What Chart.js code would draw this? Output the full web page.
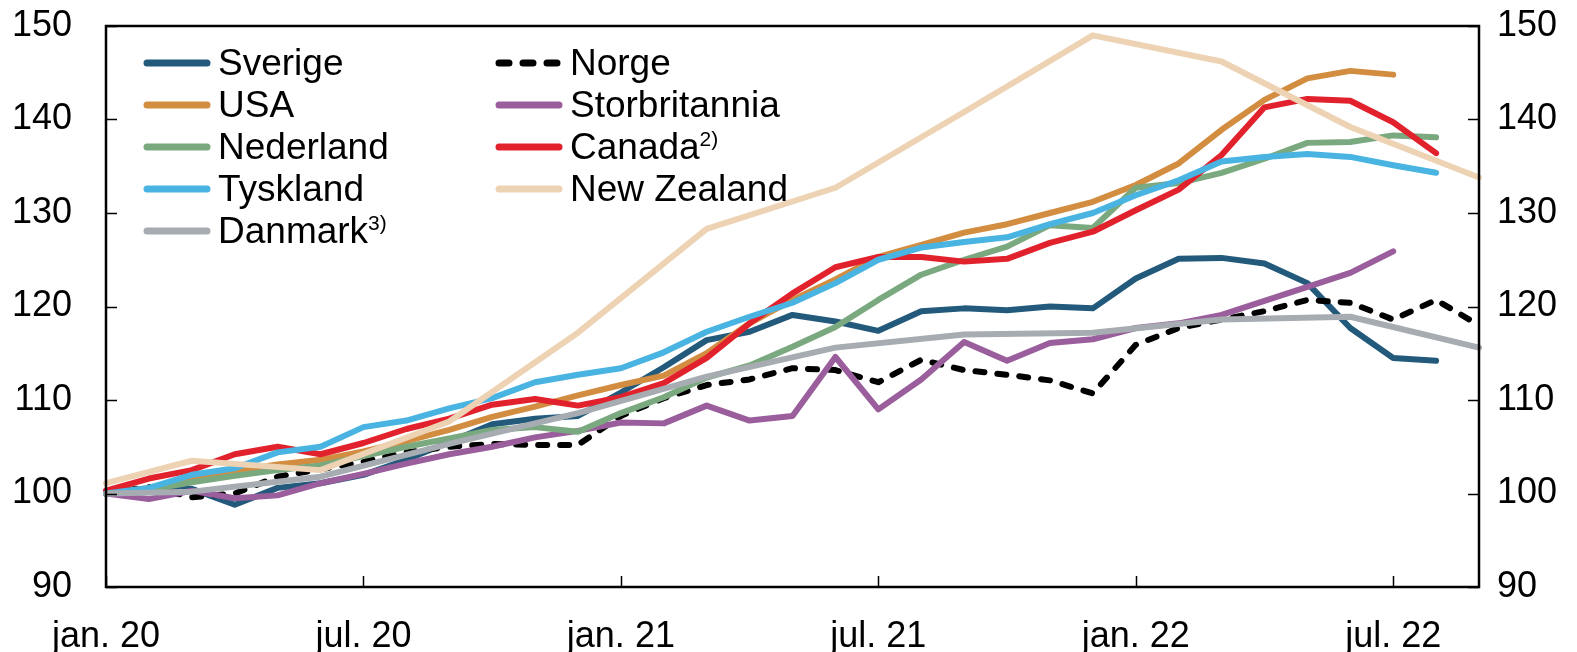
<!DOCTYPE html>
<html>
<head>
<meta charset="utf-8">
<script src="https://cdn.jsdelivr.net/npm/chart.js@4.4.1/dist/chart.umd.min.js"></script>
<style>
  html, body { margin: 0; padding: 0; background: #fff; }
  #wrap { position: relative; width: 1577px; height: 652px; }
  #legend { position: absolute; left: 0; top: 0; font-family: "Liberation Sans", Arial, sans-serif; font-size: 37px; color: #000; }
  .item { position: absolute; height: 42px; display: flex; align-items: center; white-space: nowrap; }
  .item svg { margin-right: 7px; }
  .item sup { font-size: 21px; vertical-align: 13px; line-height: 0; }
</style>
</head>
<body>
<div id="wrap">
  <canvas id="boligpriser"></canvas>
  <div id="legend"></div>
</div>
<script>
// Boligpriser, indeks jan. 2020 = 100 (månedlige, NZ og Danmark kvartalsvise)

const labels = [
  'jan. 20', 'feb. 20', 'mar. 20', 'apr. 20', 'mai 20', 'jun. 20', 'jul. 20', 'aug. 20', 'sep. 20', 'okt. 20', 'nov. 20', 'des. 20',
  'jan. 21', 'feb. 21', 'mar. 21', 'apr. 21', 'mai 21', 'jun. 21', 'jul. 21', 'aug. 21', 'sep. 21', 'okt. 21', 'nov. 21', 'des. 21',
  'jan. 22', 'feb. 22', 'mar. 22', 'apr. 22', 'mai 22', 'jun. 22', 'jul. 22', 'aug. 22', 'sep. 22'
];
const visteEtiketter = ['jan. 20', 'jul. 20', 'jan. 21', 'jul. 21', 'jan. 22', 'jul. 22'];
const yTicks = [90, 100, 110, 120, 130, 140, 150];

const sverige = [100, 100.3, 100.5, 98.8, 100.6, 101.1, 102.0, 103.6, 105.5, 107.4, 108.0, 108.3,
  110.8, 113.5, 116.4, 117.3, 119.1, 118.4, 117.4, 119.5, 119.8, 119.6, 120.0, 119.8,
  123.0, 125.1, 125.2, 124.6, 122.5, 117.7, 114.5, 114.2, null];
const norge = [100, 100.7, 99.6, 100.0, 101.8, 102.6, 103.4, 104.4, 105.0, 105.3, 105.2, 105.2,
  108.3, 110.2, 111.6, 112.2, 113.4, 113.2, 111.9, 114.3, 113.2, 112.7, 112.1, 110.7,
  115.9, 117.7, 118.6, 119.5, 120.7, 120.4, 118.6, 120.7, 118.0];
const usa = [100, 100.6, 101.4, 102.4, 103.1, 103.6, 104.5, 105.6, 106.8, 108.2, 109.3, 110.5,
  111.6, 112.6, 115.0, 118.2, 120.7, 122.9, 125.3, 126.6, 127.9, 128.8, 130.0, 131.2,
  133.0, 135.3, 138.9, 142.1, 144.4, 145.2, 144.8, null, null];
const storbritannia = [100, 99.4, 100.3, 99.5, 99.8, 101.1, 102.1, 103.2, 104.2, 105.0, 106.0, 106.7,
  107.6, 107.5, 109.4, 107.8, 108.3, 114.6, 109.0, 112.2, 116.2, 114.2, 116.1, 116.5,
  117.7, 118.2, 119.1, 120.6, 122.1, 123.6, 125.9, null, null];
const nederland = [100, 100.4, 101.2, 101.9, 102.5, 103.0, 104.0, 105.0, 105.9, 106.8, 107.1, 106.6,
  108.6, 110.3, 112.4, 113.7, 115.7, 117.8, 120.7, 123.4, 125.0, 126.4, 128.7, 128.4,
  132.7, 133.2, 134.3, 135.8, 137.5, 137.6, 138.3, 138.1, null];
const canada = [100.3, 101.6, 102.5, 104.2, 105.0, 104.2, 105.4, 106.9, 108.0, 109.5, 110.1, 109.4,
  110.3, 111.8, 114.5, 118.2, 121.4, 124.2, 125.3, 125.3, 124.8, 125.1, 126.8, 128.0,
  130.3, 132.5, 136.2, 141.3, 142.2, 142.0, 139.7, 136.4, null];
const tyskland = [100, 100.6, 102.0, 102.7, 104.4, 105.0, 107.1, 107.8, 109.1, 110.2, 111.9, 112.7,
  113.4, 115.1, 117.3, 118.9, 120.4, 122.5, 125.0, 126.3, 126.9, 127.4, 128.8, 130.0,
  131.9, 133.5, 135.5, 136.0, 136.3, 136.0, 135.1, 134.3, null];
const newZealand = [101.1, null, 103.5, null, null, 102.5, null, null, 107.7, null, null, 117.2,
  null, null, 128.3, null, null, 132.7, null, null, 140.8, null, null, 149.0,
  null, null, 146.2, null, null, 139.2, null, null, 133.8];
const danmark = [100, null, 100.2, null, null, 101.8, null, null, 105.3, null, null, 108.6,
  null, null, 112.5, null, null, 115.6, null, null, 117.0, null, null, 117.2,
  null, null, 118.6, null, null, 118.9, null, null, 115.6];

const serier = [
  { navn: 'Sverige', fotnote: '', data: sverige, farge: '#235A7C', stiplet: false },
  { navn: 'USA', fotnote: '', data: usa, farge: '#D28D41', stiplet: false },
  { navn: 'Nederland', fotnote: '', data: nederland, farge: '#7AA97F', stiplet: false },
  { navn: 'Tyskland', fotnote: '', data: tyskland, farge: '#49B4E1', stiplet: false },
  { navn: 'Danmark', fotnote: '3)', data: danmark, farge: '#A6ACB1', stiplet: false },
  { navn: 'Norge', fotnote: '', data: norge, farge: '#000000', stiplet: true },
  { navn: 'Storbritannia', fotnote: '', data: storbritannia, farge: '#9A5E9C', stiplet: false },
  { navn: 'Canada', fotnote: '2)', data: canada, farge: '#E1222D', stiplet: false },
  { navn: 'New Zealand', fotnote: '', data: newZealand, farge: '#EDD3B3', stiplet: false }
];
// tegnerekkefølge: siste i listen ligger øverst
const tegneRekkefolge = ['Sverige', 'Norge', 'USA', 'Storbritannia', 'Nederland', 'Canada', 'Tyskland', 'New Zealand', 'Danmark'];

const fontFamily = '"Liberation Sans", Arial, sans-serif';

// innvendige tickmerker + ramme rundt plottet
const rammePlugin = {
  id: 'ramme',
  afterDraw(chart) {
    const { ctx, chartArea: a, scales } = chart;
    ctx.save();
    ctx.strokeStyle = '#000';
    ctx.lineWidth = 1.5;
    ctx.beginPath();
    yTicks.forEach(v => {
      const y = Math.round(scales.y.getPixelForValue(v)) + 0.5;
      ctx.moveTo(a.left, y); ctx.lineTo(a.left + 11, y);
      ctx.moveTo(a.right, y); ctx.lineTo(a.right - 11, y);
    });
    labels.forEach((l, i) => {
      if (!visteEtiketter.includes(l)) return;
      const x = Math.round(scales.x.getPixelForValue(i)) + 0.5;
      ctx.moveTo(x, a.bottom); ctx.lineTo(x, a.bottom - 11);
    });
    ctx.stroke();
    ctx.lineWidth = 2.5;
    ctx.strokeRect(a.left, a.top, a.right - a.left, a.bottom - a.top);
    ctx.restore();
  }
};

const canvas = document.getElementById('boligpriser');
const ctx = canvas.getContext('2d');

const datasets = serier.map(s => ({
  label: s.navn,
  data: s.data,
  borderColor: s.farge,
  backgroundColor: s.farge,
  borderWidth: 6,
  borderDash: s.stiplet ? [9, 13] : [],
  borderCapStyle: 'round',
  borderJoinStyle: 'round',
  pointRadius: 0,
  tension: 0,
  spanGaps: true,
  fill: false,
  order: tegneRekkefolge.length - tegneRekkefolge.indexOf(s.navn)
}));

const tickFont = { family: fontFamily, size: 36 };

// y-aksene skal ikke skyve plottet ned pga. etikettene
const fastBredde = w => s => { s.width = w; s.paddingTop = 0; s.paddingBottom = 0; };

new Chart(ctx, {
  type: 'line',
  data: { labels: labels, datasets: datasets },
  options: {
    responsive: true,
    maintainAspectRatio: false,
    animation: false,
    layout: { padding: { top: 26, left: 0, right: 0, bottom: 0 } },
    plugins: {
      legend: { display: false },
      tooltip: { enabled: false }
    },
    scales: {
      x: {
        type: 'category',
        offset: false,
        grid: { display: false, drawTicks: false },
        border: { display: false },
        ticks: {
          autoSkip: false,
          maxRotation: 0,
          padding: 28,
          color: '#000',
          font: tickFont,
          callback: function (value) {
            const l = this.getLabelForValue(value);
            return visteEtiketter.includes(l) ? l : null;
          }
        },
        afterFit: s => { s.height = 65; }
      },
      y: {
        position: 'left',
        min: 90, max: 150,
        grid: { display: false, drawTicks: false },
        border: { display: false },
        ticks: { stepSize: 10, padding: 34, color: '#000', font: tickFont },
        afterFit: fastBredde(106)
      },
      y2: {
        position: 'right',
        min: 90, max: 150,
        grid: { display: false, drawTicks: false },
        border: { display: false },
        ticks: { stepSize: 10, padding: 18, color: '#000', font: tickFont },
        afterFit: fastBredde(98)
      }
    }
  },
  plugins: [rammePlugin]
});

// legende i to kolonner oppe til venstre i plottet
const kolonneX = [143, 495];
const radY = [63, 105, 147, 189, 231];
const legend = document.getElementById('legend');
serier.forEach((s, i) => {
  const kol = i < 5 ? 0 : 1;
  const rad = i < 5 ? i : i - 5;
  const el = document.createElement('div');
  el.className = 'item';
  el.style.left = kolonneX[kol] + 'px';
  el.style.top = (radY[rad] - 21) + 'px';
  const dash = s.stiplet ? ' stroke-dasharray="10 14"' : '';
  el.innerHTML =
    '<svg width="68" height="10"><line x1="4" y1="5" x2="64" y2="5" stroke="' + s.farge +
    '" stroke-width="7" stroke-linecap="round"' + dash + '/></svg>' +
    '<span>' + s.navn + (s.fotnote ? '<sup>' + s.fotnote + '</sup>' : '') + '</span>';
  legend.appendChild(el);
});
</script>
</body>
</html>
